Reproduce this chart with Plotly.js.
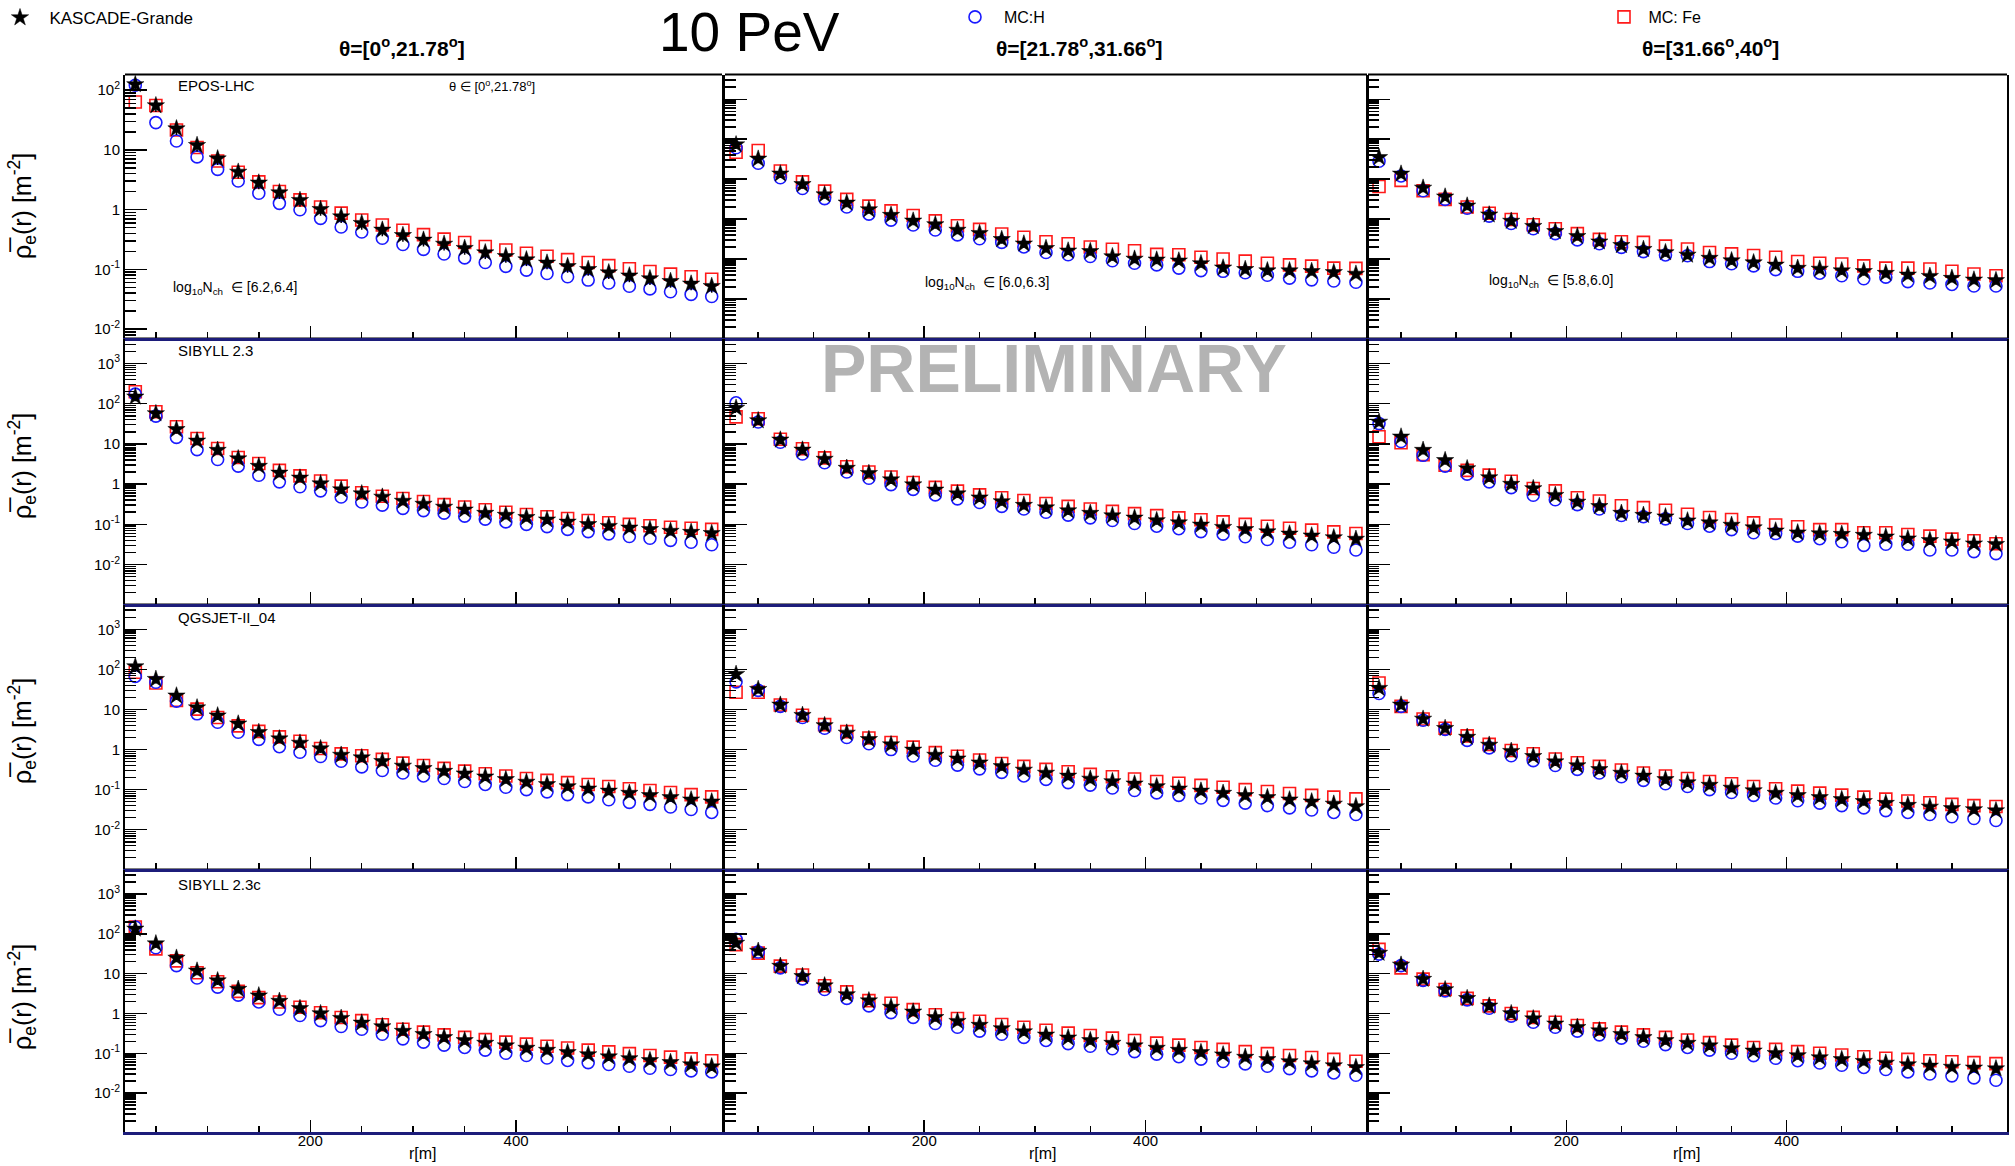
<!DOCTYPE html>
<html><head><meta charset="utf-8">
<script src="https://cdn.plot.ly/plotly-3.0.1.min.js"></script>
<style>html,body{margin:0;padding:0;background:#fff;} #chart{width:2015px;height:1166px;}</style>
</head><body><div id="chart"></div>
<script>
// ---------------- DATA ----------------
const radius = [30,50,70,90,110,130,150,170,190,210,230,250,270,290,310,330,350,370,390,410,430,450,470,490,510,530,550,570,590];
const models = ['EPOS-LHC','SIBYLL 2.3','QGSJET-II_04','SIBYLL 2.3c'];
const thetaBins = ['θ=[0<sup>o</sup>,21.78<sup>o</sup>]','θ=[21.78<sup>o</sup>,31.66<sup>o</sup>]','θ=[31.66<sup>o</sup>,40<sup>o</sup>]'];
const nchBins = ['[6.2,6.4]','[6.0,6.3]','[5.8,6.0]'];
const yTickVals = [0.01,0.1,1,10,100,1000];
const yTickText = ['10<sup>-2</sup>','10<sup>-1</sup>','1','10','10<sup>2</sup>','10<sup>3</sup>'];
const xTickVals = [200,400];
const xTickText = ['200','400'];
const xMinorVals = [50,100,150,250,300,350,450,500,550];

// EPOS-LHC
const kg_EPOS_1 = [124,55,22.6,11.9,7.1,4.25,2.8,1.92,1.43,1.01,0.76,0.59,0.456,0.37,0.31,0.265,0.225,0.19,0.165,0.145,0.128,0.112,0.10,0.088,0.078,0.07,0.063,0.057,0.052];
const h_EPOS_1  = [120,28.5,14,7.6,4.7,3.0,1.87,1.27,0.99,0.71,0.51,0.42,0.33,0.26,0.215,0.18,0.155,0.13,0.112,0.097,0.085,0.075,0.066,0.059,0.052,0.047,0.042,0.038,0.035];
const fe_EPOS_1 = [63,55,21.4,10.9,6.5,4.2,2.9,2.0,1.45,1.1,0.87,0.67,0.55,0.45,0.38,0.32,0.28,0.24,0.21,0.185,0.165,0.145,0.13,0.115,0.102,0.092,0.083,0.075,0.068];
const kg_EPOS_2 = [73,32,13.6,7.4,4.1,2.54,1.73,1.25,0.9,0.73,0.53,0.44,0.31,0.24,0.185,0.16,0.155,0.115,0.10,0.095,0.09,0.077,0.06,0.055,0.051,0.051,0.049,0.046,0.042];
const h_EPOS_2  = [61,25,10.8,5.8,3.25,2.0,1.33,0.94,0.71,0.53,0.40,0.32,0.26,0.20,0.145,0.127,0.115,0.09,0.078,0.071,0.059,0.051,0.049,0.045,0.039,0.033,0.030,0.028,0.026];
const fe_EPOS_2 = [47,52,16,8.5,5.0,3.1,2.1,1.6,1.23,0.9,0.68,0.55,0.42,0.35,0.27,0.24,0.20,0.175,0.16,0.13,0.127,0.11,0.10,0.088,0.078,0.071,0.066,0.059,0.058];
const kg_EPOS_3 = [35,13.5,6.0,3.6,2.14,1.28,0.89,0.66,0.49,0.37,0.27,0.22,0.175,0.145,0.126,0.105,0.091,0.081,0.071,0.059,0.056,0.051,0.049,0.044,0.040,0.037,0.033,0.030,0.029];
const h_EPOS_3  = [28,12,5.1,3.1,1.86,1.18,0.77,0.57,0.43,0.30,0.24,0.195,0.153,0.126,0.12,0.086,0.076,0.067,0.054,0.049,0.044,0.038,0.032,0.035,0.027,0.025,0.023,0.021,0.021];
const fe_EPOS_3 = [6.5,9.3,5.1,3.1,2.0,1.4,0.97,0.72,0.57,0.43,0.31,0.27,0.26,0.21,0.178,0.145,0.134,0.122,0.11,0.086,0.078,0.075,0.067,0.059,0.059,0.056,0.049,0.042,0.038];
// SIBYLL 2.3
const kg_SIB_1 = [148,57,23,11.9,7.0,4.3,2.8,1.9,1.43,1.03,0.73,0.58,0.48,0.38,0.32,0.27,0.23,0.19,0.17,0.15,0.13,0.115,0.10,0.09,0.082,0.075,0.068,0.064,0.06];
const h_SIB_1  = [173,49,14.5,7.2,4.1,2.8,1.66,1.14,0.86,0.68,0.48,0.36,0.30,0.25,0.22,0.19,0.16,0.135,0.115,0.10,0.088,0.075,0.066,0.058,0.05,0.045,0.04,0.036,0.031];
const fe_SIB_1 = [197,63,26.6,13.6,7.7,4.6,3.25,2.2,1.6,1.2,0.89,0.61,0.50,0.44,0.37,0.31,0.27,0.23,0.20,0.175,0.155,0.14,0.125,0.11,0.10,0.092,0.085,0.08,0.075];
const kg_SIB_2 = [78,38,12.6,7.1,4.2,2.5,1.86,1.29,0.97,0.72,0.58,0.46,0.37,0.30,0.26,0.22,0.19,0.165,0.145,0.125,0.11,0.097,0.085,0.075,0.066,0.058,0.052,0.047,0.043];
const h_SIB_2  = [105,35,11,5.6,3.4,2.0,1.4,0.97,0.74,0.54,0.43,0.35,0.28,0.24,0.20,0.17,0.145,0.125,0.105,0.09,0.078,0.066,0.057,0.049,0.042,0.036,0.031,0.027,0.023];
const fe_SIB_2 = [47,42,13,7.6,4.5,2.7,2.0,1.5,1.1,0.83,0.67,0.54,0.46,0.39,0.33,0.28,0.24,0.21,0.185,0.165,0.145,0.13,0.115,0.10,0.09,0.08,0.072,0.065,0.059];
const kg_SIB_3 = [35,15,7.0,3.9,2.44,1.46,1.0,0.78,0.53,0.36,0.28,0.19,0.169,0.155,0.123,0.11,0.096,0.083,0.069,0.062,0.059,0.057,0.054,0.049,0.044,0.040,0.037,0.033,0.032];
const h_SIB_3  = [32,11.5,5.2,2.8,1.77,1.14,0.82,0.53,0.41,0.31,0.24,0.166,0.155,0.137,0.105,0.09,0.074,0.062,0.059,0.051,0.044,0.037,0.030,0.032,0.032,0.023,0.023,0.021,0.0187];
const fe_SIB_3 = [15,10.7,5.4,2.95,2.2,1.67,1.18,0.78,0.68,0.46,0.38,0.29,0.26,0.225,0.178,0.148,0.132,0.109,0.096,0.087,0.074,0.074,0.062,0.062,0.056,0.051,0.043,0.039,0.033];
// QGSJET-II_04
const kg_QGS_1 = [118,57,22,11.1,7.0,4.4,2.7,1.87,1.46,1.06,0.73,0.63,0.51,0.39,0.34,0.29,0.25,0.21,0.18,0.155,0.135,0.12,0.105,0.093,0.082,0.072,0.064,0.056,0.05];
const h_QGS_1  = [67,48,16.2,7.8,4.8,2.7,1.8,1.18,0.86,0.67,0.51,0.37,0.30,0.26,0.22,0.19,0.16,0.135,0.115,0.10,0.088,0.075,0.066,0.056,0.048,0.043,0.037,0.032,0.027];
const fe_QGS_1 = [85,46,16.9,10.2,6.3,3.9,2.85,2.08,1.62,1.06,0.78,0.70,0.57,0.46,0.40,0.34,0.29,0.25,0.22,0.19,0.17,0.15,0.135,0.12,0.105,0.095,0.085,0.075,0.066];
const kg_QGS_2 = [76,32,13,7.2,4.0,2.6,1.8,1.33,0.98,0.73,0.59,0.47,0.38,0.31,0.26,0.22,0.185,0.16,0.14,0.12,0.105,0.093,0.082,0.072,0.064,0.056,0.05,0.044,0.038];
const h_QGS_2  = [49,30,12,6.3,3.4,2.0,1.4,1.0,0.69,0.54,0.41,0.33,0.27,0.22,0.18,0.15,0.13,0.11,0.095,0.083,0.072,0.062,0.054,0.046,0.04,0.035,0.031,0.027,0.024];
const fe_QGS_2 = [27,27,13,7.2,4.2,2.8,1.95,1.5,1.15,0.84,0.68,0.55,0.45,0.38,0.32,0.28,0.24,0.21,0.185,0.16,0.145,0.128,0.115,0.10,0.09,0.08,0.072,0.065,0.059];
const kg_QGS_3 = [34,13,5.8,3.4,2.05,1.3,0.91,0.68,0.50,0.40,0.32,0.26,0.22,0.18,0.15,0.13,0.11,0.095,0.082,0.072,0.064,0.057,0.051,0.046,0.041,0.037,0.034,0.032,0.030];
const h_QGS_3  = [25,12,5.4,3.2,1.7,1.1,0.7,0.53,0.40,0.32,0.26,0.21,0.17,0.14,0.12,0.10,0.085,0.072,0.062,0.053,0.046,0.04,0.035,0.03,0.027,0.024,0.021,0.019,0.017];
const fe_QGS_3 = [46,12,5.8,3.4,2.2,1.35,0.95,0.79,0.58,0.47,0.38,0.31,0.26,0.22,0.19,0.16,0.14,0.12,0.105,0.092,0.082,0.073,0.065,0.058,0.052,0.047,0.043,0.04,0.038];
// SIBYLL 2.3c
const kg_SIBc_1 = [134,57,24.8,11.8,6.7,4.1,2.8,2.05,1.34,1.0,0.76,0.58,0.47,0.36,0.30,0.25,0.21,0.18,0.155,0.135,0.12,0.105,0.093,0.082,0.074,0.066,0.059,0.052,0.046];
const h_SIBc_1  = [149,45,16,7.8,4.6,2.9,1.95,1.28,0.89,0.66,0.47,0.40,0.30,0.23,0.19,0.16,0.14,0.12,0.10,0.088,0.076,0.066,0.058,0.052,0.047,0.042,0.039,0.036,0.034];
const fe_SIBc_1 = [150,42,21,10.6,6.3,3.6,2.5,1.95,1.43,1.04,0.79,0.66,0.52,0.40,0.34,0.29,0.25,0.22,0.19,0.17,0.15,0.135,0.12,0.108,0.098,0.088,0.08,0.072,0.065];
const kg_SIBc_2 = [59,37,15.5,8.6,5.0,3.0,2.1,1.45,1.1,0.80,0.64,0.51,0.42,0.35,0.29,0.245,0.21,0.18,0.155,0.135,0.12,0.105,0.092,0.08,0.07,0.062,0.055,0.049,0.044];
const h_SIBc_2  = [73,35,14,7.4,4.0,2.4,1.55,1.05,0.80,0.56,0.45,0.36,0.30,0.25,0.21,0.175,0.15,0.13,0.11,0.095,0.082,0.071,0.062,0.054,0.047,0.041,0.036,0.032,0.028];
const fe_SIBc_2 = [54,33,15.5,9.3,5.0,3.5,2.1,1.8,1.25,0.93,0.75,0.64,0.53,0.45,0.38,0.32,0.28,0.24,0.21,0.18,0.16,0.14,0.125,0.11,0.098,0.088,0.078,0.07,0.063];
const kg_SIBc_3 = [33,16.6,7.3,4.0,2.4,1.55,1.0,0.74,0.55,0.45,0.37,0.30,0.25,0.21,0.18,0.155,0.132,0.115,0.10,0.088,0.078,0.07,0.063,0.057,0.052,0.048,0.045,0.043,0.041];
const h_SIBc_3  = [31,16,6.8,3.7,2.2,1.35,0.86,0.6,0.45,0.36,0.29,0.24,0.20,0.165,0.14,0.12,0.10,0.087,0.075,0.065,0.057,0.05,0.044,0.039,0.034,0.03,0.027,0.024,0.021];
const fe_SIBc_3 = [41,14,7.3,4.0,2.4,1.55,1.0,0.8,0.6,0.5,0.41,0.34,0.29,0.25,0.215,0.185,0.16,0.14,0.125,0.11,0.10,0.09,0.082,0.075,0.07,0.065,0.061,0.058,0.055];

const kgData = [[kg_EPOS_1,kg_EPOS_2,kg_EPOS_3],[kg_SIB_1,kg_SIB_2,kg_SIB_3],[kg_QGS_1,kg_QGS_2,kg_QGS_3],[kg_SIBc_1,kg_SIBc_2,kg_SIBc_3]];
const hData  = [[h_EPOS_1,h_EPOS_2,h_EPOS_3],[h_SIB_1,h_SIB_2,h_SIB_3],[h_QGS_1,h_QGS_2,h_QGS_3],[h_SIBc_1,h_SIBc_2,h_SIBc_3]];
const feData = [[fe_EPOS_1,fe_EPOS_2,fe_EPOS_3],[fe_SIB_1,fe_SIB_2,fe_SIB_3],[fe_QGS_1,fe_QGS_2,fe_QGS_3],[fe_SIBc_1,fe_SIBc_2,fe_SIBc_3]];

// ---------------- LAYOUT ----------------
const W = 2015, H = 1166;
const FONT = 'Liberation Sans, Arial, Helvetica, sans-serif';
const colPx = [[125,722],[725,1367],[1368,2007]];
const rowPx = [[74.5,338],[338.5,604],[604.5,869],[869.5,1132]];
const px = x => x / W;
const py = y => 1 - y / H;

const yMinorVals = [];
for (let e = -3; e <= 3; e++) for (let m = 2; m <= 9; m++) yMinorVals.push(parseFloat((m * Math.pow(10, e)).toPrecision(3)));

const traces = [];
const layout = {
  width: W, height: H,
  margin: {l:0, r:0, t:0, b:0},
  paper_bgcolor: '#fff', plot_bgcolor: 'rgba(0,0,0,0)',
  font: {family: FONT, color: '#000'},
  showlegend: true,
  shapes: [], annotations: [],
  legend:  {x: px(0), y: py(0), xanchor:'left', yanchor:'top', bgcolor:'rgba(0,0,0,0)', borderwidth:0, font:{size:17, family:FONT}},
  legend2: {x: px(955), y: py(0), xanchor:'left', yanchor:'top', bgcolor:'rgba(0,0,0,0)', borderwidth:0, font:{size:16, family:FONT}},
  legend3: {x: px(1604), y: py(0), xanchor:'left', yanchor:'top', bgcolor:'rgba(0,0,0,0)', borderwidth:0, font:{size:16, family:FONT}}
};

for (let r = 0; r < 4; r++) {
  for (let c = 0; c < 3; c++) {
    const idx = r * 3 + c + 1;
    const sfx = idx > 1 ? String(idx) : '';
    const xa = 'x' + sfx, ya = 'y' + sfx;
    const first = idx === 1;
    const yrange = (r === 0 && c === 0) ? [-2.15, 2.26] : [-2.98, 3.62];
    layout['xaxis' + sfx] = {
      domain: [px(colPx[c][0]), px(colPx[c][1])], range: [20, 600], anchor: ya,
      tickmode: 'array', tickvals: xTickVals, ticktext: xTickText,
      ticks: 'inside', ticklen: 12, tickwidth: 1.5, tickcolor: '#000',
      showticklabels: r === 3, tickfont: {size: 15, family: FONT}, ticklabelstandoff: -7,
      showline: true, linecolor: '#1c1c7a', linewidth: 3, mirror: false,
      showgrid: false, zeroline: false, fixedrange: true,
      minor: {tickmode: 'array', tickvals: xMinorVals, ticks: 'inside', ticklen: 6, tickwidth: 1.5, tickcolor: '#000', showgrid: false}
    };
    layout['yaxis' + sfx] = {
      type: 'log', domain: [py(rowPx[r][1]), py(rowPx[r][0])], range: yrange, anchor: xa,
      tickmode: 'array', tickvals: yTickVals, ticktext: yTickText,
      ticks: 'inside', ticklen: 22, tickwidth: 1.5, tickcolor: '#000',
      showticklabels: c === 0, tickfont: {size: 15, family: FONT},
      showline: true, linecolor: '#000', linewidth: 2, mirror: true,
      showgrid: false, zeroline: false, fixedrange: true,
      minor: {tickmode: 'array', tickvals: yMinorVals, ticks: 'inside', ticklen: 11, tickwidth: 1.5, tickcolor: '#000', showgrid: false}
    };
    layout.shapes.push({type: 'line', xref: 'paper', yref: 'paper', layer: 'below',
      x0: px(colPx[c][0]), x1: px(colPx[c][1]), y0: py(rowPx[r][0]), y1: py(rowPx[r][0]),
      line: {color: '#000', width: 2}});

    traces.push({type: 'scatter', mode: 'markers', x: radius, y: feData[r][c], xaxis: xa, yaxis: ya,
      name: '\u00a0MC: Fe', legend: 'legend3', showlegend: first,
      marker: {symbol: 'square-open', size: 12, color: '#ff1a1a', line: {width: 1.6, color: '#ff1a1a'}}});
    traces.push({type: 'scatter', mode: 'markers', x: radius, y: hData[r][c], xaxis: xa, yaxis: ya,
      name: '\u00a0\u00a0MC:H', legend: 'legend2', showlegend: first,
      marker: {symbol: 'circle-open', size: 12, color: '#1a1aff', line: {width: 1.6, color: '#1a1aff'}}});
    traces.push({type: 'scatter', mode: 'markers', x: radius, y: kgData[r][c], xaxis: xa, yaxis: ya,
      name: '\u00a0\u00a0KASCADE-Grande', legend: 'legend', showlegend: first,
      error_y: {type: 'percent', value: 22, color: '#000', thickness: 1.5, width: 0},
      marker: {symbol: 'star', size: 13, color: '#000', line: {width: 0.5, color: '#000'}}});
  }
}

const ann = layout.annotations;
ann.push({text: '10 PeV', x: px(749), y: 1, xref: 'paper', yref: 'paper', showarrow: false, borderpad: 0,
  xanchor: 'center', yanchor: 'top', font: {size: 55, family: FONT, color: '#000'}});
const titleX = [402, 1079, 1710];
thetaBins.forEach((t, i) => ann.push({text: '<b>' + t + '</b>', x: px(titleX[i]), y: py(47), xref: 'paper', yref: 'paper',
  showarrow: false, xanchor: 'center', yanchor: 'middle', font: {size: 21, family: FONT, color: '#000'}}));
ann.push({text: '<b>PRELIMINARY</b>', x: px(1054), y: py(368), xref: 'paper', yref: 'paper', showarrow: false,
  xanchor: 'center', yanchor: 'middle', font: {size: 68, family: FONT, color: '#b3b3b3'}});
const modelY = [86, 351, 617, 884];
models.forEach((m, i) => ann.push({text: m, x: px(176), y: py(modelY[i]), xref: 'paper', yref: 'paper', showarrow: false,
  xanchor: 'left', yanchor: 'middle', font: {size: 15, family: FONT, color: '#000'}}));
ann.push({text: 'θ ∈ [0<sup>o</sup>,21.78<sup>o</sup>]', x: px(492), y: py(86), xref: 'paper', yref: 'paper', showarrow: false,
  xanchor: 'center', yanchor: 'middle', font: {size: 13, family: FONT, color: '#000'}});
const nchX = [171, 923, 1487], nchY = [288, 283, 281];
nchBins.forEach((b, i) => ann.push({text: 'log<sub>10</sub>N<sub>ch</sub>  ∈ ' + b, x: px(nchX[i]), y: py(nchY[i]), xref: 'paper', yref: 'paper',
  showarrow: false, xanchor: 'left', yanchor: 'middle', font: {size: 14, family: FONT, color: '#000'}}));
const yTitleY = [206, 466, 731, 997];
yTitleY.forEach(yy => ann.push({text: 'ρ\u0305<sub>e</sub>(r) [m<sup>-2</sup>]', x: px(22), y: py(yy), xref: 'paper', yref: 'paper',
  showarrow: false, textangle: -90, xanchor: 'center', yanchor: 'middle', font: {size: 25, family: FONT, color: '#000'}}));
const xTitleX = [423, 1043, 1687];
xTitleX.forEach(xx => ann.push({text: 'r[m]', x: px(xx), y: py(1153), xref: 'paper', yref: 'paper', showarrow: false,
  xanchor: 'center', yanchor: 'middle', font: {size: 16, family: FONT, color: '#000'}}));

Plotly.newPlot('chart', traces, layout, {displayModeBar: false, staticPlot: true});
</script>
</body></html>
